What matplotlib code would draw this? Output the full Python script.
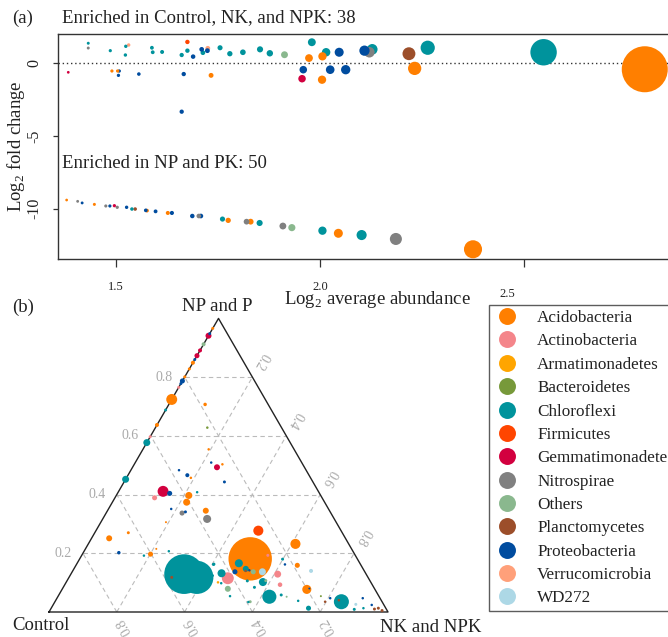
import numpy as np
import matplotlib
matplotlib.use("Agg")
import matplotlib.pyplot as plt
from matplotlib.lines import Line2D

plt.rcParams['font.family'] = ['Liberation Serif', 'DejaVu Serif']
plt.rcParams['mathtext.fontset'] = 'custom'
plt.rcParams['mathtext.rm'] = 'Liberation Serif'

# phyla in legend order
phyla = ['Acidobacteria', 'Actinobacteria', 'Armatimonadetes', 'Bacteroidetes',
         'Chloroflexi', 'Firmicutes', 'Gemmatimonadetes', 'Nitrospirae', 'Others',
         'Planctomycetes', 'Proteobacteria', 'Verrucomicrobia', 'WD272']
phylum_colors = ['#FF7F00', '#F4858A', '#FFA500', '#77993A', '#00939C', '#FF4500',
                 '#D2003F', '#808080', '#8AB88E', '#9C4E2A', '#004C9F', '#FFA07A', '#ADD8E6']
cmap = dict(zip(phyla, phylum_colors))

# ---- panel (a): log2 average abundance vs log2 fold change
abund_a = [1.432, 1.432, 1.486, 1.524, 1.531, 1.523, 1.588, 1.590, 1.613, 1.675,
           1.675, 1.661, 1.689, 1.710, 1.713, 1.725, 1.724, 1.755, 1.779, 1.811,
           1.853, 1.877, 1.913, 1.980, 1.973, 2.006, 2.015, 2.047, 2.109,
           2.121, 2.128, 2.218, 2.264, 2.548,
           1.383, 1.490, 1.504, 1.508, 1.506, 1.556, 1.666, 1.661, 1.733, 1.959,
           1.956, 2.005, 2.025, 2.063, 2.232, 2.796,
           1.379, 1.406, 1.417, 1.447, 1.475, 1.485, 1.496, 1.503, 1.526, 1.539,
           1.547, 1.573, 1.576, 1.597, 1.627, 1.637, 1.687, 1.703, 1.708, 1.761,
           1.775, 1.820, 1.830, 1.852, 1.909, 1.931, 2.006, 2.045, 2.102, 2.186, 2.375]
lfc_a = [1.38, 1.05, 0.87, 1.17, 1.26, 0.57, 1.07, 0.76, 0.78, 1.47,
         0.87, 0.57, 0.46, 0.96, 0.73, 1.03, 0.87, 1.07, 0.66, 0.76,
         0.96, 0.69, 0.59, 1.45, 0.36, 0.48, 0.76, 0.76, 0.87,
         0.76, 0.96, 0.66, 1.07, 0.76,
         -0.62, -0.53, -0.53, -0.53, -0.83, -0.74, -0.74, -3.33, -0.83, -0.44,
         -1.06, -1.13, -0.44, -0.44, -0.35, -0.41,
         -9.41, -9.50, -9.61, -9.71, -9.82, -9.82, -9.80, -9.91, -9.91, -10.03,
         -10.03, -10.12, -10.14, -10.19, -10.30, -10.30, -10.51, -10.51, -10.51, -10.72,
         -10.81, -10.90, -10.90, -10.99, -11.20, -11.31, -11.52, -11.70, -11.82, -12.09, -12.80]
phylum_a = ['Chloroflexi', 'Nitrospirae', 'Chloroflexi', 'Chloroflexi', 'Verrucomicrobia',
            'Chloroflexi', 'Chloroflexi', 'Chloroflexi', 'Chloroflexi', 'Firmicutes',
            'Chloroflexi', 'Chloroflexi', 'Proteobacteria', 'Proteobacteria', 'Chloroflexi',
            'Verrucomicrobia', 'Proteobacteria', 'Chloroflexi', 'Chloroflexi', 'Chloroflexi',
            'Chloroflexi', 'Chloroflexi', 'Others', 'Chloroflexi', 'Acidobacteria',
            'Acidobacteria', 'Chloroflexi', 'Proteobacteria', 'Proteobacteria',
            'Nitrospirae', 'Chloroflexi', 'Planctomycetes', 'Chloroflexi', 'Chloroflexi',
            'Gemmatimonadetes', 'Acidobacteria', 'Acidobacteria', 'Proteobacteria', 'Proteobacteria',
            'Proteobacteria', 'Proteobacteria', 'Proteobacteria', 'Acidobacteria', 'Proteobacteria',
            'Gemmatimonadetes', 'Acidobacteria', 'Proteobacteria', 'Proteobacteria', 'Acidobacteria',
            'Acidobacteria',
            'Acidobacteria', 'Nitrospirae', 'Proteobacteria', 'Acidobacteria', 'Nitrospirae',
            'Proteobacteria', 'Gemmatimonadetes', 'Nitrospirae', 'Proteobacteria', 'Chloroflexi',
            'Planctomycetes', 'Proteobacteria', 'Acidobacteria', 'Proteobacteria', 'Acidobacteria',
            'Proteobacteria', 'Proteobacteria', 'Nitrospirae', 'Proteobacteria', 'Chloroflexi',
            'Acidobacteria', 'Nitrospirae', 'Acidobacteria', 'Chloroflexi', 'Nitrospirae',
            'Others', 'Chloroflexi', 'Acidobacteria', 'Chloroflexi', 'Nitrospirae', 'Acidobacteria']

xtick_values = [1.5, 2.0, 2.5]
xtick_labels = ['1.5', '2.0', '2.5']
ytick_values = [0, -5, -10]
ytick_labels = ['0', '-5', '-10']
n_up, n_down = 38, 50

# ---- panel (b): ternary composition (Control, NK and NPK, NP and P)
tern_control = [.034, .059, .052, .088, .109, .127, .140, .151, .172, .199,
                .213, .222, .235, .276, .312, .363, .403, .423, .548, .186,
                .219, .252, .267, .258, .237, .375, .359, .353, .261, .458,
                .442, .494, .389, .359, .407, .464, .439, .427, .365, .375,
                .502, .697, .631, .693, .624, .602, .576, .543, .537, .505,
                .579, .434, .425, .415, .433, .244, .316, .157, .188, .223,
                .221, .261, .272, .318, .302, .324, .357, .258, .352, .389,
                .439, .432, .383, .346, .329, .362, .286, .246, .228, .201,
                .192, .157, .120, .147, .168, .082, .095, .051, .066, .036,
                .022, .035, .015, .171, .273, .451, .455, .483, .443, .395,
                .350, .338, .125, .307]
tern_nk = [0, 0, 0, 0, 0, 0, 0, 0, 0, 0,
           0, 0, 0, 0, 0, 0, 0, 0, 0, .107,
           .153, .194, .224, .249, .260, .142, .175, .190, .296, .131,
           .154, .117, .214, .233, .219, .185, .224, .232, .290, .308,
           .192, .052, .099, .105, .184, .201, .209, .250, .334, .377,
           .303, .404, .443, .470, .488, .479, .503, .611, .653, .615,
           .599, .610, .635, .580, .561, .624, .477, .549, .564, .576,
           .507, .405, .480, .507, .534, .532, .656, .716, .759, .722,
           .728, .703, .845, .806, .797, .892, .896, .902, .921, .940,
           .965, .955, .980, .775, .675, .448, .421, .393, .459, .571,
           .510, .520, .835, .586]
tern_np = [.966, .941, .948, .912, .891, .873, .860, .849, .828, .801,
           .787, .778, .765, .724, .688, .637, .597, .577, .452, .707,
           .628, .554, .509, .493, .503, .483, .466, .457, .443, .411,
           .404, .389, .397, .408, .374, .351, .337, .341, .345, .317,
           .306, .251, .270, .202, .192, .197, .215, .207, .129, .118,
           .118, .162, .132, .115, .079, .277, .181, .232, .159, .162,
           .180, .129, .093, .102, .137, .052, .166, .193, .084, .035,
           .054, .163, .137, .147, .137, .106, .058, .038, .013, .077,
           .080, .140, .035, .047, .035, .026, .009, .047, .013, .024,
           .013, .010, .005, .054, .052, .101, .124, .124, .098, .034,
           .140, .142, .040, .107]
tern_abund = [1.44, 1.84, 1.44, 1.62, 1.62, 1.75, 1.44, 1.62, 1.44, 1.44,
              1.75, 1.44, 1.44, 2.14, 1.44, 1.62, 1.44, 1.92, 1.92, 1.54,
              1.32, 1.32, 1.32, 1.84, 1.32, 1.32, 1.62, 1.32, 1.44, 2.14,
              1.75, 1.75, 1.92, 1.32, 1.92, 1.32, 1.75, 1.44, 1.84, 1.99,
              1.14, 1.84, 1.44, 1.54, 1.32, 1.75, 1.14, 1.32, 2.73, 2.65,
              1.44, 1.44, 1.99, 2.18, 1.84, 2.10, 2.77, 2.10, 1.75, 1.32,
              1.44, 1.92, 1.69, 1.99, 1.92, 2.26, 1.99, 1.44, 1.44, 1.44,
              1.32, 1.44, 1.75, 1.84, 1.75, 1.44, 1.44, 1.32, 1.75, 2.05,
              1.14, 1.62, 2.29, 1.32, 1.32, 1.44, 1.44, 1.32, 1.32, 1.32,
              1.44, 1.44, 1.44, 1.14, 1.14, 1.32, 1.32, 1.32, 1.32, 1.32,
              1.32, 1.32, 1.32, 1.44]
tern_phylum = ['Acidobacteria', 'Gemmatimonadetes', 'Proteobacteria', 'Others', 'Gemmatimonadetes',
               'Gemmatimonadetes', 'Proteobacteria', 'Acidobacteria', 'Acidobacteria', 'Acidobacteria',
               'Proteobacteria', 'Proteobacteria', 'Actinobacteria', 'Acidobacteria', 'Chloroflexi',
               'Acidobacteria', 'Actinobacteria', 'Chloroflexi', 'Chloroflexi', 'Acidobacteria',
               'Bacteroidetes', 'Acidobacteria', 'Proteobacteria', 'Gemmatimonadetes', 'Acidobacteria',
               'Proteobacteria', 'Proteobacteria', 'Acidobacteria', 'Proteobacteria', 'Gemmatimonadetes',
               'Proteobacteria', 'Actinobacteria', 'Acidobacteria', 'Chloroflexi', 'Acidobacteria',
               'Proteobacteria', 'Nitrospirae', 'Proteobacteria', 'Acidobacteria', 'Nitrospirae',
               'Acidobacteria', 'Acidobacteria', 'Acidobacteria', 'Proteobacteria', 'Chloroflexi',
               'Acidobacteria', 'Acidobacteria', 'Chloroflexi', 'Chloroflexi', 'Chloroflexi',
               'Planctomycetes', 'Chloroflexi', 'Chloroflexi', 'Actinobacteria', 'Others',
               'Firmicutes', 'Acidobacteria', 'Acidobacteria', 'Acidobacteria', 'Proteobacteria',
               'Chloroflexi', 'Actinobacteria', 'Actinobacteria', 'Chloroflexi', 'WD272',
               'Chloroflexi', 'Chloroflexi', 'Actinobacteria', 'Chloroflexi', 'Others',
               'Chloroflexi', 'Chloroflexi', 'Proteobacteria', 'Chloroflexi', 'Others',
               'Chloroflexi', 'Chloroflexi', 'Chloroflexi', 'Chloroflexi', 'Acidobacteria',
               'Proteobacteria', 'WD272', 'Chloroflexi', 'Proteobacteria', 'Planctomycetes',
               'WD272', 'Chloroflexi', 'Proteobacteria', 'Chloroflexi', 'Proteobacteria',
               'Planctomycetes', 'Planctomycetes', 'Planctomycetes', 'Bacteroidetes', 'Others',
               'Armatimonadetes', 'Chloroflexi', 'Chloroflexi', 'Chloroflexi', 'Chloroflexi',
               'Planctomycetes', 'Proteobacteria', 'Planctomycetes', 'Others']
tern_grid = [0.2, 0.4, 0.6, 0.8]
corner_labels = ['Control', 'NK and NPK', 'NP and P']


def marker_area(ab):
    # size scale: diameter (px) grows with abundance
    d_px = 0.072 * 10 ** np.asarray(ab) + 1.0
    return (d_px * 0.72) ** 2


W, H = 668, 637
fig = plt.figure(figsize=(W / 100, H / 100), dpi=100)
TXT = '#222222'
FS = 13.5


def fx(px):
    return px / W


def fy(py):
    return 1 - py / H


# ================= panel (a)
ax = fig.add_axes([fx(58), fy(259), (690 - 58) / W, (259 - 34) / H])
xa = np.array(abund_a)
ya = np.array(lfc_a)
ca = np.array([cmap[p] for p in phylum_a])
order = np.argsort(-xa)
ax.scatter(xa[order], ya[order], s=marker_area(xa[order]), c=ca[order],
           linewidths=0, zorder=3)
ax.axhline(0, color='#333333', lw=1.0, ls=(0, (1, 2)), zorder=2)
ax.set_xlim(1.5 + (58 - 116) / 408, 1.5 + (690 - 116) / 408)
ax.set_ylim((63.3 - 259) / 14.53, (63.3 - 34) / 14.53)
for s in ['left', 'top', 'bottom']:
    ax.spines[s].set_color('#333333')
    ax.spines[s].set_linewidth(1.0)
ax.spines['right'].set_visible(False)
ax.set_xticks(xtick_values)
ax.set_xticklabels(xtick_labels[:2] + [''])
ax.tick_params(axis='x', length=6, width=0.9, color='#333333', pad=9.5,
               labelsize=9, labelcolor=TXT)
ax.set_yticks(ytick_values)
ax.set_yticklabels(ytick_labels, rotation=90, va='center')
ax.tick_params(axis='y', length=3.5, width=0.9, color='#333333', pad=7.5,
               labelsize=11.5, labelcolor=TXT)
fig.text(fx(507), fy(294), xtick_labels[2], fontsize=9, ha='center', va='center',
         color=TXT)

fig.text(fx(12), fy(18), '(a)', fontsize=FS, va='center', color=TXT)
fig.text(fx(62), fy(18), f'Enriched in Control, NK, and NPK: {n_up}', fontsize=FS,
         va='center', color=TXT)
fig.text(fx(62), fy(163), f'Enriched in NP and PK: {n_down}', fontsize=FS,
         va='center', color=TXT)
fig.text(fx(377), fy(300), 'Log$_2$ average abundance', fontsize=FS,
         ha='center', va='center', color=TXT)
fig.text(fx(16), fy(146), 'Log$_2$ fold change', fontsize=FS, rotation=90,
         ha='center', va='center', color=TXT)

# ================= panel (b) ternary
h = np.sqrt(3) / 2
tax = fig.add_axes([fx(49), fy(612), 339 / W, 339 * h / H])
tax.set_xlim(0, 1)
tax.set_ylim(0, h)
tax.axis('off')


def cart(n, p):
    n = np.asarray(n, dtype=float)
    p = np.asarray(p, dtype=float)
    return n + p / 2, p * h


grid_kw = dict(color='#BBBBBB', lw=0.8, ls=(0, (4, 3)), zorder=1)
lab_kw = dict(fontsize=10, color='#AAAAAA', ha='center', va='center',
              textcoords='offset points', annotation_clip=False)
for v in tern_grid:
    # NP and P (horizontal)
    x, y = cart([0, 1 - v], [v, v])
    tax.plot(x, y, **grid_kw)
    tax.annotate(f'{v:.1f}', (x[0], y[0]), xytext=(-14.5, 0), **lab_kw)
    # NK and NPK (parallel to left edge)
    x, y = cart([v, v], [0, 1 - v])
    tax.plot(x, y, **grid_kw)
    tax.annotate(f'{v:.1f}', (x[1], y[1]), xytext=(6.5, 11.5), rotation=-120, **lab_kw)
    # Control (parallel to right edge)
    x, y = cart([1 - v, 0], [0, 1 - v])
    tax.plot(x, y, **grid_kw)
    tax.annotate(f'{v:.1f}', (x[0], y[0]), xytext=(5.5, -10.5), rotation=120, **lab_kw)

tx, ty = cart([0, 1, 0, 0], [0, 0, 1, 0])
tax.plot(tx, ty, color='#222222', lw=1.0, zorder=2, clip_on=False)

xt, yt = cart(tern_nk, tern_np)
ab_t = np.array(tern_abund)
ct = np.array([cmap[p] for p in tern_phylum])
order = np.argsort(-ab_t, kind='stable')
tax.scatter(xt[order], yt[order], s=marker_area(ab_t[order]), c=ct[order],
            linewidths=0, zorder=3, clip_on=False)

fig.text(fx(12), fy(307), '(b)', fontsize=FS, va='center', color=TXT)
fig.text(fx(217), fy(307), corner_labels[2], fontsize=FS, ha='center', va='center',
         color=TXT)
fig.text(fx(12), fy(626), corner_labels[0], fontsize=FS, va='center', color=TXT)
fig.text(fx(380), fy(627), corner_labels[1], fontsize=FS, va='center', color=TXT)

# ================= legend
handles = [Line2D([], [], ls='', marker='o', markersize=12.2, markeredgewidth=0,
                  color=cmap[p]) for p in phyla]
leg = fig.legend(handles, phyla, loc='upper left', bbox_to_anchor=(fx(489), fy(305)),
                 borderaxespad=0, frameon=True, fancybox=False, fontsize=12.3,
                 handlelength=1.52, handletextpad=1.0, labelspacing=0.43,
                 borderpad=0.3, edgecolor='#333333')
leg.get_frame().set_linewidth(1.0)
for t in leg.get_texts():
    t.set_color(TXT)

fig.savefig('out.png', dpi=100)
